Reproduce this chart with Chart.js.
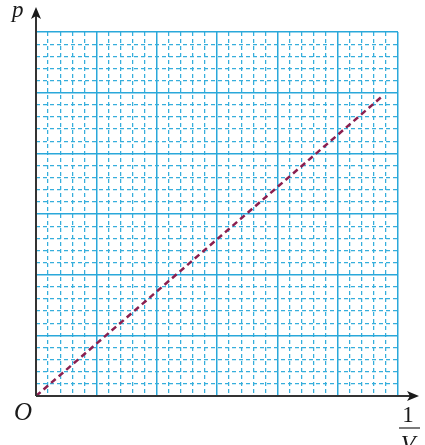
<!DOCTYPE html>
<html><head><meta charset="utf-8">
<script src="https://cdn.jsdelivr.net/npm/chart.js@4.4.0/dist/chart.umd.min.js"></script>
<style>html,body{margin:0;padding:0;background:#fff;}#wrap{width:425px;height:445px;position:relative;}</style>
</head><body><div id="wrap"><canvas id="c" width="425" height="445"></canvas></div>
<script>
const xRange = [0, 6];
const yRange = [0, 6];
const lineX = [0, 5.75];
const lineY = [0, 4.95];
const axisLabels = { y: 'p', origin: 'O', xNum: '1', xDen: 'V' };

const isMajor = v => Math.abs(v - Math.round(v)) < 1e-6;
const gridStyle = {
  color: ctx => ctx.tick && isMajor(ctx.tick.value) ? '#2aa8da' : '#36aedc',
  lineWidth: ctx => ctx.tick && isMajor(ctx.tick.value) ? 1.5 : 1.25,
  drawTicks: false
};
const borderStyle = {
  display: false,
  dash: ctx => ctx.tick && !isMajor(ctx.tick.value) ? [4, 3] : []
};

const decor = {
  id: 'decor',
  afterDraw(chart) {
    const c = chart.ctx;
    const x0 = chart.scales.x.getPixelForValue(0);
    const y0 = chart.scales.y.getPixelForValue(0);
    c.save();
    c.strokeStyle = '#333333'; c.fillStyle = '#1a1a1a'; c.lineWidth = 2;
    c.beginPath(); c.moveTo(x0, y0); c.lineTo(x0, 14); c.stroke();
    c.beginPath(); c.moveTo(x0, y0); c.lineTo(410, y0); c.stroke();
    c.beginPath(); c.moveTo(x0, 7); c.lineTo(x0 - 5, 19); c.lineTo(x0, 16); c.lineTo(x0 + 5, 19); c.closePath(); c.fill();
    c.beginPath(); c.moveTo(419, y0); c.lineTo(407, y0 - 5); c.lineTo(410, y0); c.lineTo(407, y0 + 5); c.closePath(); c.fill();
    c.textBaseline = 'alphabetic'; c.textAlign = 'left';
    c.font = 'italic 23px "Liberation Serif"';
    c.fillText(axisLabels.y, 12, 17);
    c.font = 'italic 25px "Liberation Serif"';
    c.fillText(axisLabels.origin, 14, 420);
    c.textAlign = 'center';
    c.font = '23px "Liberation Serif"';
    c.fillText(axisLabels.xNum, 408, 422);
    c.font = 'italic 24px "Liberation Serif"';
    c.fillText(axisLabels.xDen, 408, 451);
    c.lineWidth = 1.3;
    c.beginPath(); c.moveTo(399, 428); c.lineTo(420, 428); c.stroke();
    c.restore();
  }
};

new Chart(document.getElementById('c'), {
  type: 'scatter',
  data: {
    datasets: [{
      data: lineX.map((x, i) => ({ x, y: lineY[i] })),
      showLine: true,
      borderColor: '#8b1f4f',
      borderWidth: 2.5,
      borderDash: [6, 4],
      pointRadius: 0,
      fill: false
    }]
  },
  options: {
    responsive: false,
    animation: false,
    layout: { padding: { left: 36, right: 27, top: 32, bottom: 49 } },
    plugins: { legend: { display: false }, tooltip: { enabled: false } },
    scales: {
      x: { type: 'linear', min: xRange[0], max: xRange[1], ticks: { display: false, stepSize: 0.2, autoSkip: false }, grid: gridStyle, border: borderStyle },
      y: { type: 'linear', min: yRange[0], max: yRange[1], ticks: { display: false, stepSize: 0.2, autoSkip: false }, grid: gridStyle, border: borderStyle }
    }
  },
  plugins: [decor]
});
</script></body></html>
